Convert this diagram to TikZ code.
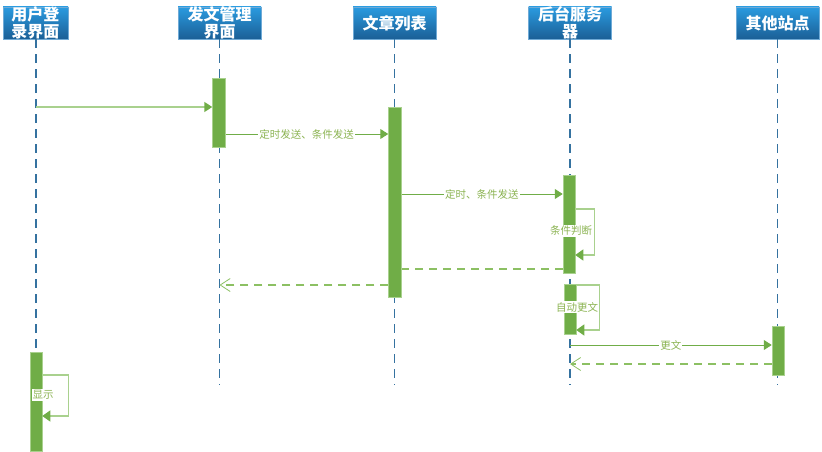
\documentclass[tikz,border=0pt]{standalone}
\usepackage{fontspec}
\setmainfont{Noto Sans CJK SC}
\usetikzlibrary{arrows.meta}
\definecolor{hdtop}{HTML}{2A9BE0}
\definecolor{hdbot}{HTML}{1B5F96}
\definecolor{hdborder}{HTML}{6FAAD6}
\definecolor{life}{HTML}{3572A0}
\definecolor{actg}{HTML}{70AD47}
\definecolor{lightg}{HTML}{A9D18E}
\definecolor{dashg}{HTML}{8CC063}
\definecolor{labg}{HTML}{8CB453}
\tikzset{
  hdr/.style={rectangle, top color=hdtop, bottom color=hdbot, draw=hdborder, line width=0.6pt,
    minimum width=83pt, minimum height=32pt, inner sep=0pt},
  hdtext/.style={text=white, font=\fontsize{16}{17}\selectfont\bfseries, align=center, inner sep=0pt},
  lifeline/.style={draw=life, line width=1.8pt, dash pattern=on 9pt off 6pt},
  act/.style={rectangle, fill=actg, draw=lightg, line width=0.5pt, minimum width=12pt, inner sep=0pt},
  msg/.style={draw=actg, line width=1pt, -{Triangle[length=8pt,width=10pt]}},
  msgl/.style={draw=lightg, line width=1.6pt, -{Triangle[length=8pt,width=10pt,color=actg]}},
  ret/.style={draw=dashg, line width=1.6pt, dash pattern=on 8pt off 6pt},
  retarr/.style={ret, -{Straight Barb[length=10pt,width=13pt,line width=0.8pt]}},
  selfloop/.style={draw=lightg, line width=1.2pt, -{Triangle[length=8pt,width=11pt,color=actg]}},
  lab/.style={fill=white, text=labg, font=\fontsize{10.5}{12}\selectfont, inner sep=1pt}
}
\begin{document}
\begin{tikzpicture}[x=1pt,y=-1pt]
\useasboundingbox (0,0) rectangle (822,452);
% headers
\node[hdr, minimum width=65pt] (h1) at (35.5,23) {};
\node[hdr] (h2) at (219.5,23) {};
\node[hdr] (h3) at (394.5,23) {};
\node[hdr] (h4) at (570,23) {};
\node[hdr] (h5) at (777.5,23) {};
\begin{scope}\clip (h1.north west) rectangle (h1.south east);
\node[hdtext] (t1) at (h1.center) {用户登\\录界面};\end{scope}
\begin{scope}\clip (h2.north west) rectangle (h2.south east);
\node[hdtext] (t2) at (h2.center) {发文管理\\界面};\end{scope}
\begin{scope}\clip (h3.north west) rectangle (h3.south east);
\node[hdtext] (t3) at (h3.center) {文章列表};\end{scope}
\begin{scope}\clip (h4.north west) rectangle (h4.south east);
\node[hdtext] (t4) at (h4.center) {后台服务\\器};\end{scope}
\begin{scope}\clip (h5.north west) rectangle (h5.south east);
\node[hdtext] (t5) at (h5.center) {其他站点};\end{scope}
% lifeline ends
\coordinate (e1) at (36,385);
\coordinate (e2) at (219.5,385);
\coordinate (e3) at (394.5,385);
\coordinate (e4) at (570,385);
\coordinate (e5) at (777.5,385);
\draw[lifeline] (h1.south -| e1) -- (e1);
\draw[lifeline] (h2.south) -- (e2);
\draw[lifeline] (h3.south) -- (e3);
\draw[lifeline] (h4.south) -- (e4);
\draw[lifeline] (h5.south) -- (e5);
% activation boxes
\coordinate (y1) at (0,107);
\coordinate (y2) at (0,134);
\coordinate (y3) at (0,194);
\coordinate (y4) at (0,269);
\coordinate (y5) at (0,285);
\coordinate (y6) at (0,345);
\coordinate (y7) at (0,364);
\path node[act, minimum height=68pt] (a2) at (218.5,113) {}
      node[act, minimum height=190pt] (a3) at (394.5,202) {}
      node[act, minimum height=98pt] (a4) at (569,224) {}
      node[act, minimum height=50pt] (a5) at (570,309) {}
      node[act, minimum height=49pt] (a6) at (778,350.5) {}
      node[act, minimum height=99pt] (a1) at (36,401.5) {};
% messages
\draw[msgl] (e1 |- y1) -- (a2.west |- y1);
\draw[msg] (a2.east |- y2) -- node[lab] (l2) {定时发送、条件发送} (a3.west |- y2);
\draw[msg] (a3.east |- y3) -- node[lab] (l3) {定时、条件发送} (a4.west |- y3);
\draw[ret] (a4.west |- y4) -- (a3.center |- y4);
\draw[retarr] (a3.west |- y5) -- (e2 |- y5);
\draw[msg] (e4 |- y6) -- node[lab] (l6) {更文} (a6.west |- y6);
\draw[retarr] (a6.west |- y7) -- (e4 |- y7);
% redraw activations on top
\foreach \n in {a1,a2,a3,a4,a5,a6}{
  \fill[actg] (\n.north west) rectangle (\n.south east);
  \draw[lightg, line width=0.5pt] (\n.north west) rectangle (\n.south east);
}
% self loops
\coordinate (s1a) at (0,209); \coordinate (s1b) at (0,255);
\coordinate (s2a) at (0,285); \coordinate (s2b) at (0,330);
\coordinate (s3a) at (0,375); \coordinate (s3b) at (0,416);
\draw[selfloop] (a4.east |- s1a) -- ++(19,0) |- (a4.east |- s1b);
\draw[selfloop] (a5.east |- s2a) -- ++(23,0) |- (a5.east |- s2b);
\draw[selfloop] (a1.east |- s3a) -- ++(26,0) |- (a1.east |- s3b);
\node[lab] (l4) at (571,231) {条件判断};
\node[lab] (l5) at (577,307) {自动更文};
\node[lab] (l1) at (43,395) {显示};
\end{tikzpicture}
\end{document}
